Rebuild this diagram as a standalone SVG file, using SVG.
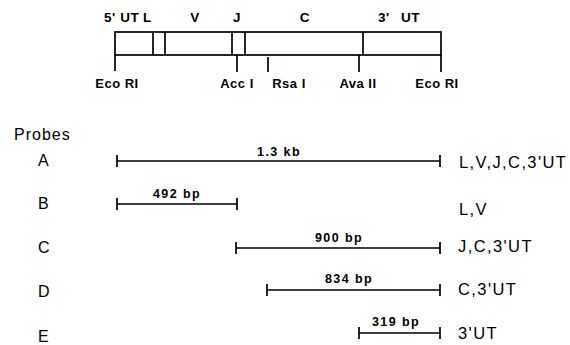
<svg xmlns="http://www.w3.org/2000/svg" width="570" height="345" viewBox="0 0 570 345">
<style>
.ln{stroke:#000;stroke-width:1.7;fill:none}
.t{font-family:"Liberation Sans",Arial,sans-serif;fill:#000}
.seg{font-size:13.5px;font-weight:bold;letter-spacing:0.6px}
.site{font-size:13px;font-weight:bold;letter-spacing:0.5px;text-anchor:middle}
.sz{font-size:12.5px;font-weight:bold;letter-spacing:1.4px;text-anchor:middle}
.pl{font-size:16px}
.rl{font-size:16.5px;letter-spacing:1.4px}
</style>
<rect width="570" height="345" fill="#fff"/>
<g id="map">
<rect class="ln" x="115" y="32" width="326" height="23"/>
<line class="ln" x1="153" y1="32" x2="153" y2="55"/>
<line class="ln" x1="165" y1="32" x2="165" y2="55"/>
<line class="ln" x1="232" y1="32" x2="232" y2="55"/>
<line class="ln" x1="245" y1="32" x2="245" y2="55"/>
<line class="ln" x1="363" y1="32" x2="363" y2="55"/>
<text class="t seg" x="104" y="22">5' UT</text>
<text class="t seg" x="143" y="22">L</text>
<text class="t seg" x="195" y="22" text-anchor="middle">V</text>
<text class="t seg" x="237" y="22" text-anchor="middle">J</text>
<text class="t seg" x="305" y="22" text-anchor="middle">C</text>
<text class="t seg" x="378" y="22">3'</text>
<text class="t seg" x="401" y="22">UT</text>
</g>
<g id="sites">
<line class="ln" x1="115" y1="55" x2="115" y2="71"/>
<line class="ln" x1="237" y1="55" x2="237" y2="72"/>
<line class="ln" x1="268" y1="57" x2="268" y2="72"/>
<line class="ln" x1="359" y1="55" x2="359" y2="72"/>
<line class="ln" x1="441" y1="55" x2="441" y2="72"/>
<text class="t site" x="117" y="88">Eco RI</text>
<text class="t site" x="237" y="88">Acc I</text>
<text class="t site" x="289" y="88">Rsa I</text>
<text class="t site" x="358" y="88">Ava II</text>
<text class="t site" x="437" y="88">Eco RI</text>
</g>
<text class="t pl" x="14" y="140" letter-spacing="1">Probes</text>
<g id="probeA">
<text class="t pl" x="38" y="166">A</text>
<path class="ln" d="M117 161H440M117 155V167M440 155V167"/>
<text class="t sz" x="279" y="156">1.3 kb</text>
<text class="t rl" x="459" y="168">L,V,J,C,3'UT</text>
</g>
<g id="probeB">
<text class="t pl" x="38" y="209">B</text>
<path class="ln" d="M117 204H237M117 198V210M237 198V210"/>
<text class="t sz" x="177" y="198">492 bp</text>
<text class="t rl" x="459" y="215">L,V</text>
</g>
<g id="probeC">
<text class="t pl" x="38" y="253">C</text>
<path class="ln" d="M236 248H440M236 242V254M440 242V254"/>
<text class="t sz" x="339" y="242">900 bp</text>
<text class="t rl" x="458" y="252">J,C,3'UT</text>
</g>
<g id="probeD">
<text class="t pl" x="38" y="297">D</text>
<path class="ln" d="M267 290H440M267 284V296M440 284V296"/>
<text class="t sz" x="349" y="283">834 bp</text>
<text class="t rl" x="458" y="295">C,3'UT</text>
</g>
<g id="probeE">
<text class="t pl" x="38" y="342">E</text>
<path class="ln" d="M359 333H440M359 327V339M440 327V339"/>
<text class="t sz" x="396" y="326">319 bp</text>
<text class="t rl" x="458" y="339">3'UT</text>
</g>
</svg>
